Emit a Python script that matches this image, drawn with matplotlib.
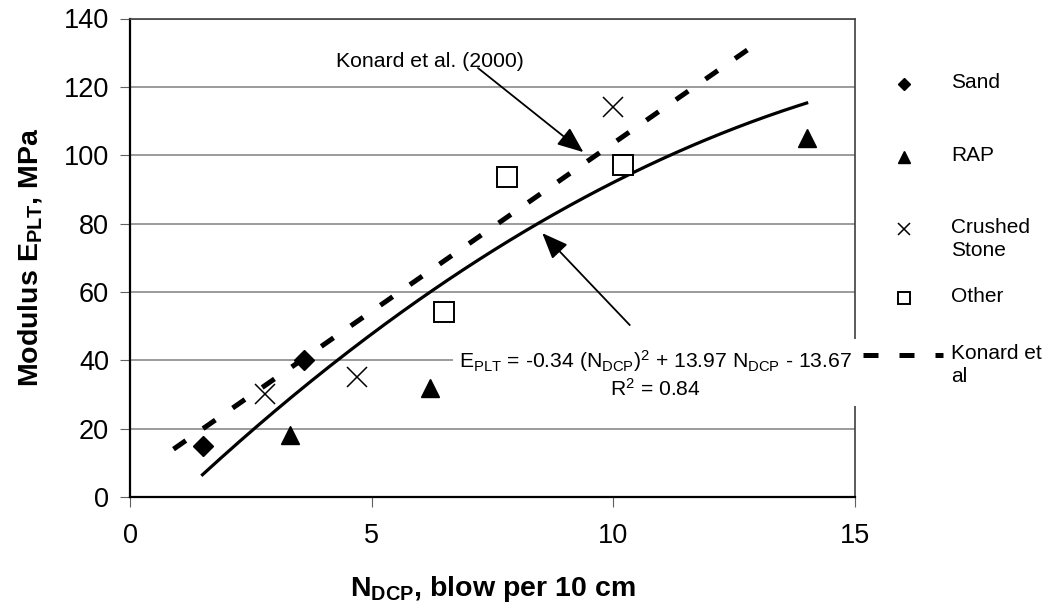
import numpy as np
import matplotlib

matplotlib.use("Agg")
import matplotlib.pyplot as plt
from matplotlib.lines import Line2D

plt.rcParams["font.family"] = ["Liberation Sans", "DejaVu Sans"]
plt.rcParams["mathtext.fontset"] = "custom"
plt.rcParams["mathtext.rm"] = "Liberation Sans"
plt.rcParams["mathtext.bf"] = "Liberation Sans:bold"
plt.rcParams["mathtext.it"] = "Liberation Sans:italic"

# measured points (N_DCP, E_PLT)
sand_x = [1.5, 3.6]
sand_y = [15, 40]
rap_x = [3.3, 6.2, 14.0]
rap_y = [18, 32, 105]
stone_x = [2.8, 4.7, 10.0]
stone_y = [30, 35, 114]
other_x = [6.5, 7.8, 10.2]
other_y = [54, 93.5, 97]

# Konard et al. (2000) line
konard_x = [0.9, 13.1]
konard_y = [14, 134]

# fitted trendline printed on the chart
trend_coef = [-0.34, 13.97, -13.67]
trend_span = [1.5, 14.0]

W, H = 1052, 616
fig = plt.figure(figsize=(W / 100, H / 100), dpi=100)
ax = fig.add_axes([130 / W, 1 - 497 / H, 725 / W, 478.5 / H])

ax.set_xlim(0, 15)
ax.set_ylim(0, 140)
ax.set_xticks([0, 5, 10, 15])
ax.set_yticks(range(0, 141, 20))
ax.grid(axis="y", color="#808080", linewidth=1.1, zorder=0)
ax.set_axisbelow(True)

for s in ("left", "bottom"):
    ax.spines[s].set_linewidth(1.6)
    ax.spines[s].set_color("black")
for s in ("top", "right"):
    ax.spines[s].set_linewidth(1.2)
    ax.spines[s].set_color("#404040")

ax.tick_params(axis="both", direction="out", length=7, width=0.8, color="#606060",
               labelsize=19.5)
ax.tick_params(axis="y", pad=8)
ax.tick_params(axis="x", pad=12)

tx = np.linspace(trend_span[0], trend_span[1], 200)
ax.plot(tx, np.polyval(trend_coef, tx), color="black", linewidth=2.3, zorder=3)

konard_style = dict(color="black", linewidth=3.6, dashes=(3, 4.2), dash_capstyle="butt")
ax.plot(konard_x, konard_y, zorder=3, **konard_style)

styles = {
    "Sand": dict(marker="D", markersize=10.5, color="black"),
    "RAP": dict(marker="^", markersize=13, color="black"),
    "Crushed\nStone": dict(marker="x", markersize=15, markeredgewidth=1.1, color="black"),
    "Other": dict(marker="s", markersize=14, markerfacecolor="white",
                  markeredgecolor="black", markeredgewidth=1.4),
}
series = [(sand_x, sand_y), (rap_x, rap_y), (stone_x, stone_y), (other_x, other_y)]
for (xs, ys), st in zip(series, styles.values()):
    ax.plot(xs, ys, linestyle="none", zorder=4, **st)

ax.set_xlabel(r"N$_{\mathbf{DCP}}$, blow per 10 cm", fontsize=20.5, fontweight="bold",
              labelpad=18)
ax.set_ylabel(r"Modulus E$_{\mathbf{PLT}}$, MPa", fontsize=20.5, fontweight="bold",
              labelpad=14)

arrow = dict(arrowstyle="-|>,head_length=1.6,head_width=0.65", color="black",
             linewidth=1.3, shrinkA=0, shrinkB=0)
ax.text(6.2, 127.3, "Konard et al. (2000)", fontsize=15.3, ha="center", va="center")
ax.annotate("", xy=(9.38, 100.9), xytext=(7.2, 125.5), arrowprops=arrow)
ax.annotate("", xy=(8.53, 77.2), xytext=(10.34, 50.3), arrowprops=arrow)

ax.text(10.87, 36.0,
        r"E$_{\mathrm{PLT}}$ = -0.34 (N$_{\mathrm{DCP}}$)$^{2}$ + 13.97 N$_{\mathrm{DCP}}$ - 13.67"
        "\n" r"R$^{2}$ = 0.84",
        fontsize=15.2, ha="center", va="center", multialignment="center",
        linespacing=1.25, zorder=5, clip_on=False,
        bbox=dict(facecolor="white", edgecolor="none", pad=4.5))

# legend outside the plot, entries aligned on their first text line
legend_rows = [84, 157, 229, 298, 355]
mk_scale = 0.62
for (label, st), yp in zip(styles.items(), legend_rows):
    st = dict(st)
    st["markersize"] = st["markersize"] * mk_scale
    fig.add_artist(Line2D([904 / W], [1 - yp / H], transform=fig.transFigure,
                          linestyle="none", **st))
    fig.text(951 / W, 1 - (yp - 11) / H, label, fontsize=15, ha="left", va="top",
             linespacing=1.3)
fig.add_artist(Line2D([863 / W, 943 / W], [1 - legend_rows[-1] / H] * 2,
                      transform=fig.transFigure, **konard_style))
fig.text(951 / W, 1 - (legend_rows[-1] - 11) / H, "Konard et\nal", fontsize=15,
         ha="left", va="top", linespacing=1.3)

fig.savefig("out.png", dpi=100)
